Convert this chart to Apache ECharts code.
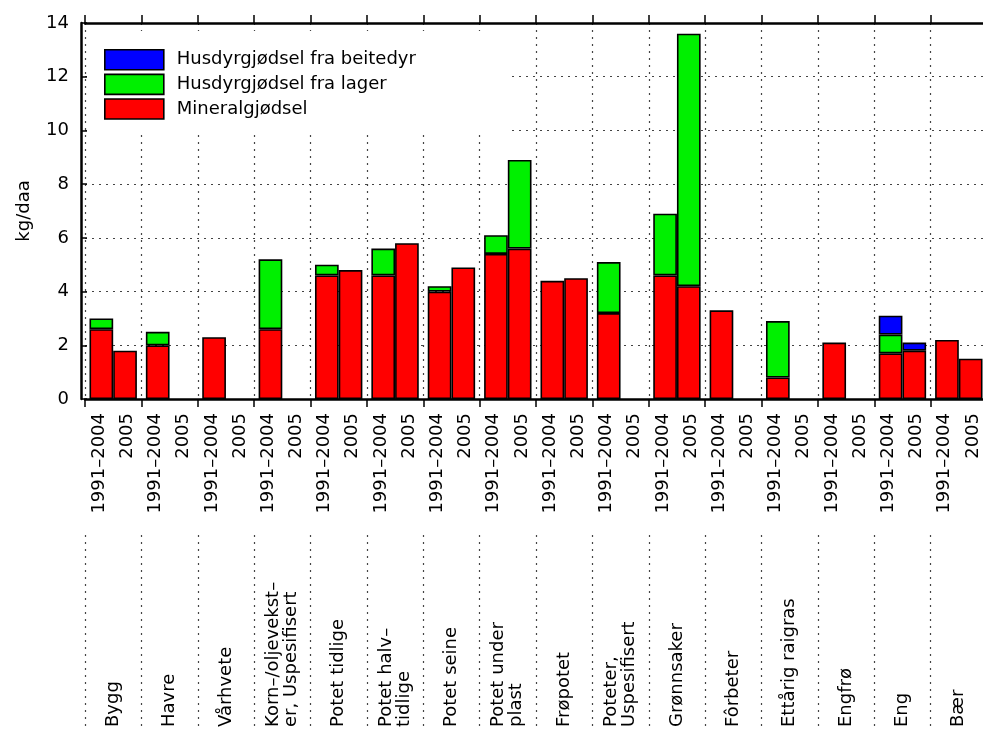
<!DOCTYPE html>
<html>
<head>
<meta charset="utf-8">
<script src="https://cdn.jsdelivr.net/npm/echarts@6/dist/echarts.min.js"></script>
<style>
  html, body { margin: 0; padding: 0; background: #fff; overflow: hidden; }
  /* the plot frame runs a few pixels past the right edge of the page */
  #chart { width: 1000px; height: 731px; }
</style>
</head>
<body>
<div id="chart"></div>
<script>
// Crop groups along the x axis
const crops = [
  'Bygg', 'Havre', 'Vårhvete', 'Korn–/oljevekst–\ner, Uspesifisert',
  'Potet tidlige', 'Potet halv–\ntidlige', 'Potet seine', 'Potet under\nplast',
  'Frøpotet', 'Poteter,\nUspesifisert', 'Grønnsaker', 'Fôrbeter',
  'Ettårig raigras', 'Engfrø', 'Eng', 'Bær'
];
const periods = ['1991–2004', '2005'];

// kg/daa per crop, 1991–2004 average
const mineral9104 = [2.6, 2.0, 2.3, 2.6, 4.6, 4.6, 4.0, 5.4, 4.4, 3.2, 4.6, 3.3, 0.8, 2.1, 1.7, 2.2];
const lager9104   = [0.4, 0.5, null, 2.6, 0.4, 1.0, 0.2, 0.7, null, 1.9, 2.3, null, 2.1, null, 0.7, null];
const beite9104   = [null, null, null, null, null, null, null, null, null, null, null, null, null, null, 0.7, null];

// kg/daa per crop, 2005
const mineral2005 = [1.8, null, null, null, 4.8, 5.8, 4.9, 5.6, 4.5, null, 4.2, null, null, null, 1.8, 1.5];
const lager2005   = [null, null, null, null, null, null, null, 3.3, null, null, 9.4, null, null, null, null, null];
const beite2005   = [null, null, null, null, null, null, null, null, null, null, null, null, null, null, 0.3, null];

const yTicks = { min: 0, max: 14, step: 2 };

const NAME_BEITE = 'Husdyrgjødsel fra beitedyr';
const NAME_LAGER = 'Husdyrgjødsel fra lager';
const NAME_MINERAL = 'Mineralgjødsel';

const FONT = 'DejaVu Sans';
const FS = 18;
const dotted = { color: '#444', width: 1.2, type: [2, 5] };

const periodLabels = [];
crops.forEach(() => periods.forEach(p => periodLabels.push(p)));

function barSeries(name, data, stack, color) {
  return {
    name, type: 'bar', stack, data,
    xAxisIndex: 0, yAxisIndex: 0,
    barWidth: 23.7, barGap: '0%',
    itemStyle: { color, borderColor: '#000', borderWidth: 1.6 },
    emphasis: { disabled: true }
  };
}

const chart = echarts.init(document.getElementById('chart'), null, { renderer: 'canvas' });
chart.setOption({
  animation: false,
  backgroundColor: '#fff',
  textStyle: { fontFamily: FONT, color: '#000' },
  grid: [
    { left: 85, top: 23, width: 902, height: 376 },
    { left: 85, top: 535, width: 902, bottom: 0 }
  ],
  legend: {
    orient: 'vertical',
    left: 87, top: 31,
    padding: [18, 92, 15, 17],
    backgroundColor: '#fff',
    itemWidth: 59, itemHeight: 20, itemGap: 3,
    icon: 'rect',
    itemStyle: { borderColor: '#000', borderWidth: 1.6 },
    textStyle: { fontFamily: FONT, fontSize: FS, lineHeight: 20, color: '#000', padding: [0, 0, 0, 8] },
    data: [NAME_BEITE, NAME_LAGER, NAME_MINERAL],
    selectedMode: false
  },
  xAxis: [
    {
      type: 'category', gridIndex: 0, data: crops, position: 'bottom',
      axisLine: { lineStyle: { color: '#000', width: 2.5 } },
      axisTick: { show: true, interval: 0, length: 8, lineStyle: { color: '#000', width: 1.5 } },
      axisLabel: { show: false },
      splitLine: { show: true, interval: 0, lineStyle: dotted }
    },
    {
      type: 'category', gridIndex: 0, data: periodLabels, position: 'bottom',
      axisLine: { show: false }, axisTick: { show: false },
      axisLabel: { interval: 0, rotate: 90, margin: 14, fontSize: FS, fontFamily: FONT, color: '#000' },
      splitLine: { show: false }
    },
    {
      type: 'category', gridIndex: 0, data: crops, position: 'top',
      axisLine: { lineStyle: { color: '#000', width: 2.5 } },
      axisTick: { show: true, interval: 0, length: 8, lineStyle: { color: '#000', width: 1.5 } },
      axisLabel: { show: false },
      splitLine: { show: false }
    },
    {
      type: 'category', gridIndex: 1, data: crops, position: 'bottom',
      axisLine: { show: false }, axisTick: { show: false },
      axisLabel: {
        interval: 0, rotate: 90, inside: true, margin: 4,
        fontSize: FS, lineHeight: 18, fontFamily: FONT, color: '#000'
      },
      splitLine: { show: true, interval: 0, lineStyle: dotted }
    }
  ],
  yAxis: [
    {
      type: 'value', gridIndex: 0,
      min: yTicks.min, max: yTicks.max, interval: yTicks.step,
      offset: 4,
      name: 'kg/daa', nameLocation: 'middle', nameGap: 48,
      nameTextStyle: { fontSize: FS, fontFamily: FONT, color: '#000' },
      axisLine: { show: true, lineStyle: { color: '#000', width: 2.5 } },
      axisTick: { show: true, inside: true, length: 6, lineStyle: { color: '#000', width: 1.5 } },
      axisLabel: { fontSize: FS, fontFamily: FONT, color: '#000', margin: 12 },
      splitLine: { show: true, lineStyle: dotted }
    },
    { type: 'value', gridIndex: 1, show: false, splitLine: { show: false } }
  ],
  series: [
    barSeries(NAME_MINERAL, mineral9104, 'p1', '#ff0000'),
    barSeries(NAME_LAGER, lager9104, 'p1', '#00f000'),
    barSeries(NAME_BEITE, beite9104, 'p1', '#0000ff'),
    barSeries(NAME_MINERAL, mineral2005, 'p2', '#ff0000'),
    barSeries(NAME_LAGER, lager2005, 'p2', '#00f000'),
    barSeries(NAME_BEITE, beite2005, 'p2', '#0000ff')
  ]
});
</script>
</body>
</html>
